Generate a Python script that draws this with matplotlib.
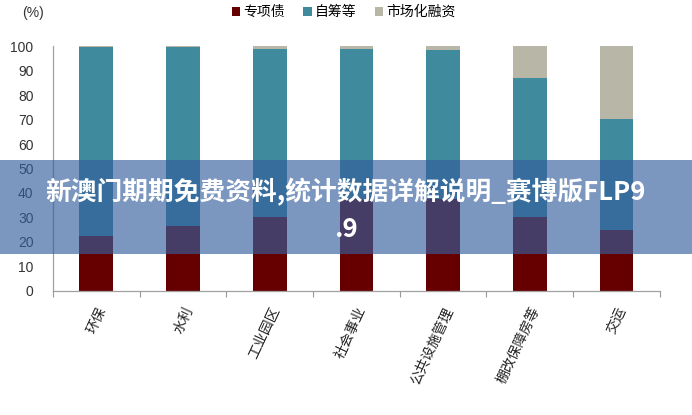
import matplotlib
matplotlib.use("Agg")
import matplotlib.pyplot as plt
from matplotlib.patches import Rectangle, Patch
import numpy as np

plt.rcParams['font.family'] = ['Noto Sans CJK SC', 'DejaVu Sans']

categories = ["环保", "水利", "工业园区", "社会事业", "公共设施管理", "棚改保障房等", "交运"]
special_bond = [22.3, 26.5, 30.2, 37.5, 37.5, 30.2, 24.9]      # 专项债
self_raised = [77.2, 73.0, 68.8, 61.5, 60.8, 56.6, 45.3]      # 自筹等
market_fin = [0.5, 0.5, 1.0, 1.0, 1.7, 13.2, 29.8]             # 市场化融资
series_names = ["专项债", "自筹等", "市场化融资"]
yticks = [0, 10, 20, 30, 40, 50, 60, 70, 80, 90, 100]
banner_line1 = "新澳门期期免费资料,统计数据详解说明_赛博版FLP9"
banner_line2 = ".9"

colors = ["#660000", "#3f8a9c", "#b8b6a6"]

fig = plt.figure(figsize=(6.92, 4.15), dpi=100)
ax = fig.add_axes([0.0766, 0.299, 0.877, 0.590])

x = np.arange(len(categories))
w = 0.39
b1 = np.array(special_bond)
b2 = b1 + np.array(self_raised)
ax.bar(x, special_bond, w, color=colors[0], zorder=2)
ax.bar(x, self_raised, w, bottom=b1, color=colors[1], zorder=2)
ax.bar(x, market_fin, w, bottom=b2, color=colors[2], zorder=2)

ax.set_xlim(-0.5, len(categories) - 0.5)
ax.set_ylim(0, 100)
ax.set_yticks(yticks)
ax.set_yticklabels([str(v) for v in yticks], family=['Liberation Sans', 'DejaVu Sans'],
                   fontsize=10, color="#333333")
ax.tick_params(axis='y', length=0, pad=14)

ax.set_xticks(x)
ax.set_xticklabels(categories, rotation=65, ha='right', va='top',
                   rotation_mode='anchor', fontsize=10, color="#222222")
ax.tick_params(axis='x', which='major', length=0, pad=10)
ax.set_xticks(np.arange(-0.5, len(categories), 1.0), minor=True)
ax.tick_params(axis='x', which='minor', length=4, color="#999999", width=0.8)

for s in ['top', 'right']:
    ax.spines[s].set_visible(False)
for s in ['left', 'bottom']:
    ax.spines[s].set_color("#a0a0a0")
    ax.spines[s].set_linewidth(0.9)

fig.text(0.048, 0.969, "(%)", ha='center', va='center', fontsize=10,
         family=['Liberation Sans', 'DejaVu Sans'], color="#333333")

handles = [Patch(facecolor=c, edgecolor='none') for c in colors]
fig.legend(handles, series_names, loc='center', bbox_to_anchor=(0.497, 0.971),
           ncol=3, frameon=False, fontsize=10, handlelength=0.6, handleheight=0.6,
           handletextpad=0.25, columnspacing=1.3)

# overlay banner
fig.patches.append(Rectangle((0, 0.388), 1, 0.226, transform=fig.transFigure,
                             facecolor=(52/255, 94/255, 157/255), alpha=0.65,
                             edgecolor='none', zorder=5))
fig.text(0.5, 1 - 192/415, banner_line1, ha='center', va='center', fontsize=18.5,
         fontweight='bold', color='white', zorder=6)
fig.text(0.5, 1 - 229/415, banner_line2, ha='center', va='center', fontsize=18.5,
         fontweight='bold', color='white', zorder=6)

fig.savefig("out.png", dpi=100)
